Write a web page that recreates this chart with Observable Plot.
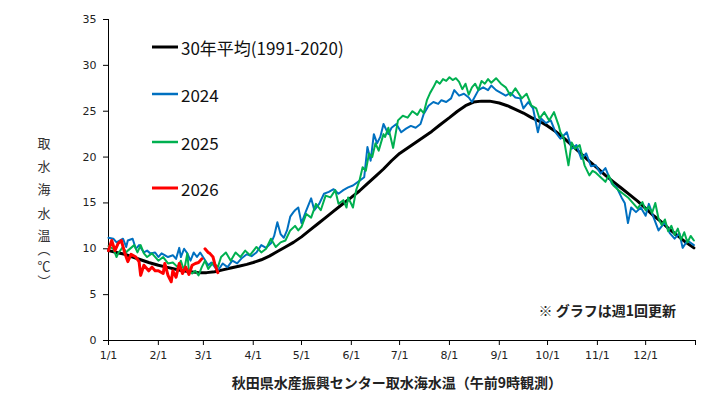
<!DOCTYPE html>
<html><head><meta charset="utf-8">
<script src="https://cdn.jsdelivr.net/npm/d3@7"></script>
<script src="https://cdn.jsdelivr.net/npm/@observablehq/plot@0.6"></script>
<style>
body{margin:0;background:#fff;}
#chart{width:720px;height:396px;}
</style></head><body><div id="chart"></div>
<script>
// ---- tick definitions ----
const monthTickDays = [0,31,59,90,120,151,181,212,243,273,304,334,365];
const monthTickLabels = ["1/1","2/1","3/1","4/1","5/1","6/1","7/1","8/1","9/1","10/1","11/1","12/1",""];
const yTicks = [0,5,10,15,20,25,30,35];

// ---- series names ----
const seriesNames = ["30年平均(1991-2020)","2024","2025","2026"];
const seriesColors = ["#000000","#0070C0","#00B050","#FF0000"];

// ---- 30-year average (day of year, °C) ----
const avgDays = [0,5,10,15,20,25,31,36,41,46,51,56,61,66,71,76,81,86,90,95,100,105,110,115,120,125,130,135,140,145,151,156,161,166,171,176,181,186,191,196,201,206,212,217,222,227,232,237,243,248,253,258,263,268,273,278,283,288,293,298,304,309,314,319,324,329,334,339,344,349,354,359,364];
const avgTemps = [9.8,9.6,9.4,9.1,8.8,8.5,8.2,8.0,7.8,7.6,7.5,7.4,7.4,7.5,7.7,7.9,8.1,8.3,8.5,8.8,9.2,9.7,10.2,10.7,11.3,12.0,12.7,13.4,14.1,14.8,15.6,16.3,17.1,17.9,18.7,19.6,20.4,21.0,21.6,22.2,22.8,23.5,24.3,25.0,25.6,26.0,26.1,26.1,25.9,25.6,25.2,24.8,24.3,23.9,23.4,22.8,22.1,21.3,20.5,19.7,18.8,18.0,17.3,16.6,15.9,15.2,14.4,13.6,12.9,12.1,11.4,10.7,10.1];

// ---- 2024 ----
const days2024 = [0,3,5,9,11,12,15,17,19,22,24,26,29,31,33,37,40,42,44,45,47,49,51,53,55,57,62,64,68,71,74,77,80,83,86,89,92,95,98,101,103,105,107,109,111,113,115,116,118,120,123,126,128,131,134,137,140,143,146,149,152,156,159,161,163,165,167,169,171,174,176,179,182,185,188,191,194,196,199,202,205,207,210,213,215,218,221,224,226,230,233,236,238,241,244,247,250,253,256,258,261,264,267,269,272,275,278,281,285,288,291,294,297,300,303,306,309,313,316,319,321,323,325,328,331,334,336,339,342,346,349,352,355,357,360,364];
const temps2024 = [11.2,11.1,10.7,11.1,10.2,10.9,11.1,10.0,10.4,9.6,9.8,9.5,9.6,9.1,9.5,9.1,9.3,8.9,10.1,9.1,10.0,9.5,8.7,9.6,9.1,9.6,8.2,8.5,7.6,8.4,8.0,8.7,8.4,9.0,9.4,9.2,9.6,10.4,10.1,10.6,11.4,12.9,11.6,11.2,12.0,13.5,14.0,14.2,14.5,12.8,14.2,15.5,14.2,14.9,16.0,16.2,16.5,16.0,16.4,16.7,16.9,17.4,17.8,21.1,19.6,22.5,21.5,22.2,23.6,22.5,23.2,23.6,22.7,23.1,23.4,23.2,23.6,24.7,25.6,26.0,25.8,26.2,26.0,26.4,27.3,26.7,26.9,26.5,26.0,27.3,27.6,27.3,27.8,27.3,27.0,26.7,27.0,26.5,26.4,25.3,26.0,25.3,22.7,24.2,23.7,24.0,22.7,22.0,22.7,20.9,21.3,19.8,20.4,19.0,19.1,18.2,18.8,17.1,16.7,15.6,15.0,12.8,14.5,14.0,14.5,13.6,14.9,13.4,12.0,12.9,11.7,11.1,11.7,10.1,10.9,10.4];

// ---- 2025 ----
const days2025 = [0,3,5,6,9,11,12,16,18,20,22,24,27,31,34,37,40,43,45,47,49,50,52,54,56,58,60,62,65,68,70,73,76,79,82,85,88,92,95,98,101,104,107,110,113,116,118,120,123,126,129,132,135,138,141,143,146,148,149,152,154,156,158,160,162,164,166,168,171,172,174,177,180,183,186,189,192,194,196,198,200,202,204,206,208,210,212,214,216,218,220,222,224,226,228,230,232,234,236,238,241,244,247,250,253,257,260,263,266,268,271,274,277,280,281,283,286,288,290,293,296,299,301,303,306,309,311,314,317,320,323,326,329,332,334,336,338,340,342,344,346,348,350,352,354,356,358,360,362,364];
const temps2025 = [10.3,10.0,9.1,9.5,10.2,9.6,9.8,10.4,9.6,10.4,9.5,9.1,9.5,8.7,9.1,8.4,8.5,8.0,8.7,7.6,9.5,7.6,7.3,7.6,7.1,8.0,8.7,7.8,8.5,8.0,9.1,9.6,8.7,9.6,9.1,9.8,9.3,10.2,9.6,10.0,11.1,10.2,10.7,10.9,12.0,12.5,12.0,12.4,13.8,13.4,14.9,14.2,15.8,15.6,16.4,14.9,15.3,14.5,15.6,14.5,16.4,17.4,18.9,18.5,20.4,20.0,21.5,20.7,22.5,22.2,23.2,21.0,24.0,24.5,24.3,25.0,24.6,25.2,24.8,26.2,27.0,27.6,28.3,28.0,28.5,28.3,28.7,28.4,28.6,28.2,27.4,28.0,26.8,27.6,28.0,27.3,28.3,28.0,28.5,28.1,28.6,28.0,27.6,26.7,27.5,26.4,26.9,25.6,25.3,24.2,24.9,24.0,24.9,23.4,22.7,22.1,19.1,21.6,20.9,21.3,19.1,18.0,18.5,18.3,17.8,17.3,18.0,16.9,16.4,16.0,15.6,15.0,14.4,15.1,14.2,14.6,13.9,15.0,13.3,12.6,13.2,11.9,12.5,11.5,12.2,11.0,11.8,10.7,11.4,10.9];

// ---- 2026 (NaN = missing observation) ----
const days2026 = [0,2,4,6,8,10,12,14,17,19,20,22,25,27,29,31,34,35,37,39,40,42,44,46,48,50,52,54,56,58,59,60,62,63,65,66,68];
const temps2026 = [9.8,10.9,9.8,10.6,10.9,9.6,8.6,9.4,9.1,8.6,7.1,8.2,7.6,8.0,7.6,7.6,7.3,8.4,7.1,6.4,7.6,6.9,8.4,7.3,8.0,7.2,8.2,8.4,8.5,8.9,NaN,10.0,9.6,9.5,9.1,8.4,7.4];

// ---- text ----
const xTitle = "秋田県水産振興センター取水海水温（午前9時観測）";
const yTitle = "取水海水温︵℃︶";
const noteText = "※ グラフは週1回更新";

const toRows = (days, temps) => days.map((d, i) => ({day: d, t: temps[i]}));
const avg = toRows(avgDays, avgTemps);
const s2024 = toRows(days2024, temps2024);
const s2025 = toRows(days2025, temps2025);
const s2026 = toRows(days2026, temps2026);

const chart = Plot.plot({
  width: 720, height: 396,
  marginLeft: 108, marginRight: 25, marginTop: 19, marginBottom: 56,
  style: {fontFamily: "DejaVu Sans", fontSize: "11px", color: "#222", background: "#fff"},
  x: {domain: [0, 365]},
  y: {domain: [0, 35]},
  marks: [
    Plot.axisY({ticks: yTicks, tickSize: 5, tickPadding: 7, label: null, stroke: "#000", strokeOpacity: 1}),
    Plot.axisX({ticks: monthTickDays, tickFormat: d => monthTickLabels[monthTickDays.indexOf(d)], tickSize: 5, tickPadding: 6, label: null, stroke: "#000", strokeOpacity: 1}),
    Plot.ruleX([0], {stroke: "#000"}),
    Plot.ruleY([0], {stroke: "#000"}),
    Plot.line(avg, {x: "day", y: "t", stroke: seriesColors[0], strokeWidth: 3}),
    Plot.line(s2024, {x: "day", y: "t", stroke: seriesColors[1], strokeWidth: 2}),
    Plot.line(s2025, {x: "day", y: "t", stroke: seriesColors[2], strokeWidth: 2}),
    Plot.line(s2026, {x: "day", y: "t", stroke: seriesColors[3], strokeWidth: 3})
  ]
});
document.getElementById("chart").appendChild(chart);

const svg = d3.select(chart);
const jp = "'Noto Sans CJK JP', 'Noto Sans', sans-serif";

// legend
const legendY = [47, 94, 142, 188];
const legendW = [3, 2.5, 2.5, 3];
const lg = svg.append("g");
seriesNames.forEach((name, i) => {
  lg.append("line").attr("x1", 152).attr("x2", 178).attr("y1", legendY[i]).attr("y2", legendY[i])
    .attr("stroke", seriesColors[i]).attr("stroke-width", legendW[i]);
  lg.append("text").attr("x", 181).attr("y", legendY[i]).attr("text-anchor", "start")
    .attr("dominant-baseline", "central")
    .attr("font-family", jp).attr("font-size", 17).attr("fill", "#111").text(name);
});

// y title: one text node, each character placed in a vertical stack
const yPos = [142, 165, 188, 212, 234, 248, 265, 280];
svg.append("text")
  .attr("x", yPos.map(() => 44).join(" "))
  .attr("y", yPos.join(" "))
  .attr("font-family", jp).attr("font-size", 13).attr("fill", "#333")
  .attr("text-anchor", "middle").attr("dominant-baseline", "central")
  .text(yTitle);

// x title
svg.append("text").attr("x", 397).attr("y", 382).attr("text-anchor", "middle")
  .attr("dominant-baseline", "central").attr("font-family", jp).attr("font-size", 14)
  .attr("font-weight", "bold").attr("fill", "#222").text(xTitle);

// note
svg.append("text").attr("x", 676).attr("y", 310).attr("text-anchor", "end")
  .attr("dominant-baseline", "central").attr("font-family", jp).attr("font-size", 14)
  .attr("font-weight", "bold").attr("fill", "#222").text(noteText);
</script>
</body></html>
